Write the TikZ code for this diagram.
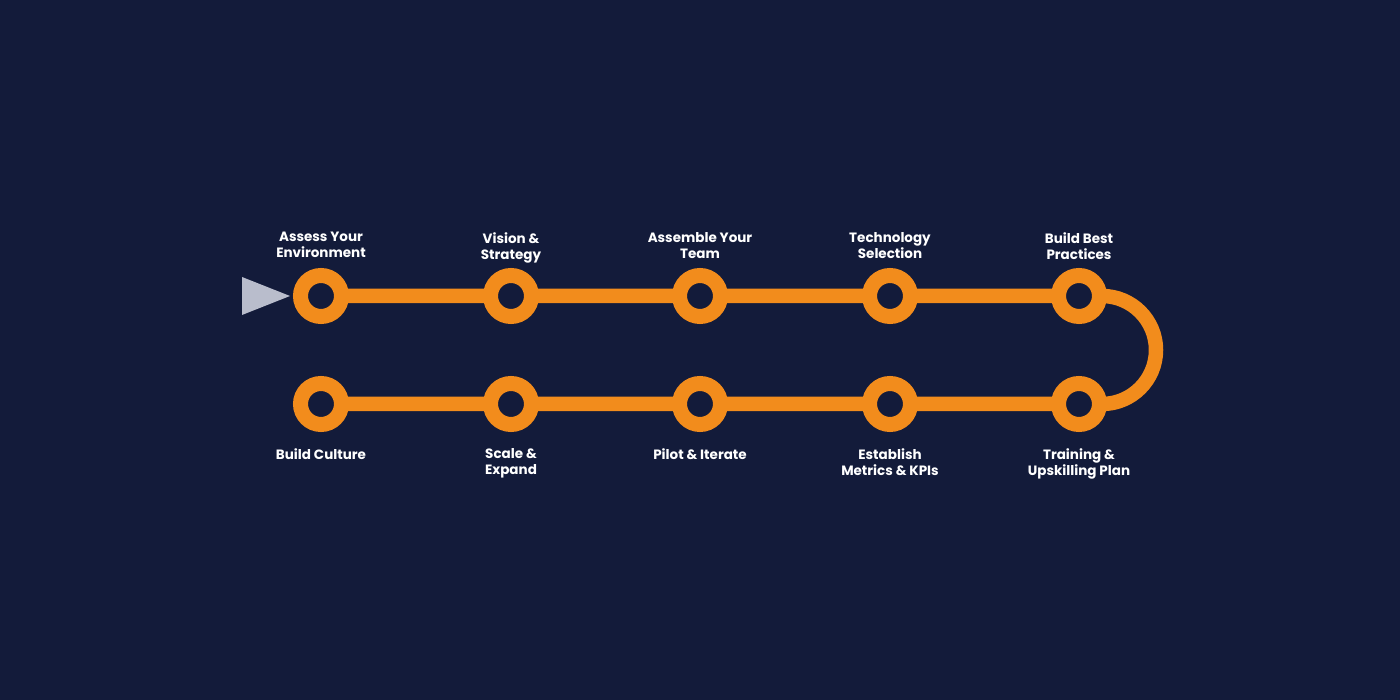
\documentclass[tikz,border=0pt]{standalone}
\usepackage{fontspec}
\setmainfont{Poppins}
\definecolor{bg}{HTML}{131B3A}
\definecolor{track}{HTML}{F28C1C}
\definecolor{pointer}{HTML}{B9BDCC}
\begin{document}
\begin{tikzpicture}[x=1pt,y=1pt,
  ring/.style={circle,draw=track,line width=15pt,fill=bg,minimum size=41pt,inner sep=0pt},
  trackline/.style={draw=track,line width=14.5pt},
  lbl/.style={text=white,align=center,font=\fontsize{13.5}{16}\selectfont\bfseries,inner sep=0pt,
    execute at begin node=\vphantom{Abl\&}},
  toplbl/.style={lbl,anchor=north},
  botlbl/.style={lbl,anchor=north}]
\fill[bg] (0,0) rectangle (1400,700);
\useasboundingbox (0,0) rectangle (1400,700);
% ring positions
\coordinate (p1) at (321,404);
\coordinate (p2) at (511,404);
\coordinate (p3) at (700,404);
\coordinate (p4) at (890,404);
\coordinate (p5) at (1079,404);
\coordinate (p6) at (1079,296);
\coordinate (p7) at (890,296);
\coordinate (p8) at (700,296);
\coordinate (p9) at (511,296);
\coordinate (p10) at (321,296);
\coordinate (t1) at (1102,404);
% track
\draw[trackline] (p1) -- (t1) arc[start angle=90,end angle=-90,radius=54] -- (p10);
% rings
\foreach \i in {1,...,10} {\node[ring] (c\i) at (p\i) {};}
% start pointer
\fill[pointer] (242,423) -- (290,404) -- (242,385) -- cycle;
% labels
\node[toplbl] (l1) at ([yshift=36pt]c1.north) {Assess Your\\Environment};
\node[toplbl] (l2) at ([yshift=36pt]c2.north) {Vision \&\\Strategy};
\node[toplbl] (l3) at ([yshift=36pt]c3.north) {Assemble Your\\Team};
\node[toplbl] (l4) at ([yshift=36pt]c4.north) {Technology\\Selection};
\node[toplbl] (l5) at ([yshift=36pt]c5.north) {Build Best\\Practices};
\node[botlbl] (l6) at ([yshift=-16pt]c6.south) {Training \&\\Upskilling Plan};
\node[botlbl] (l7) at ([yshift=-16pt]c7.south) {Establish\\Metrics \& KPIs};
\node[botlbl] (l8) at ([yshift=-16pt]c8.south) {Pilot \& Iterate};
\node[botlbl] (l9) at ([yshift=-16pt]c9.south) {Scale \&\\Expand};
\node[botlbl] (l10) at ([yshift=-16pt]c10.south) {Build Culture};
\end{tikzpicture}
\end{document}
